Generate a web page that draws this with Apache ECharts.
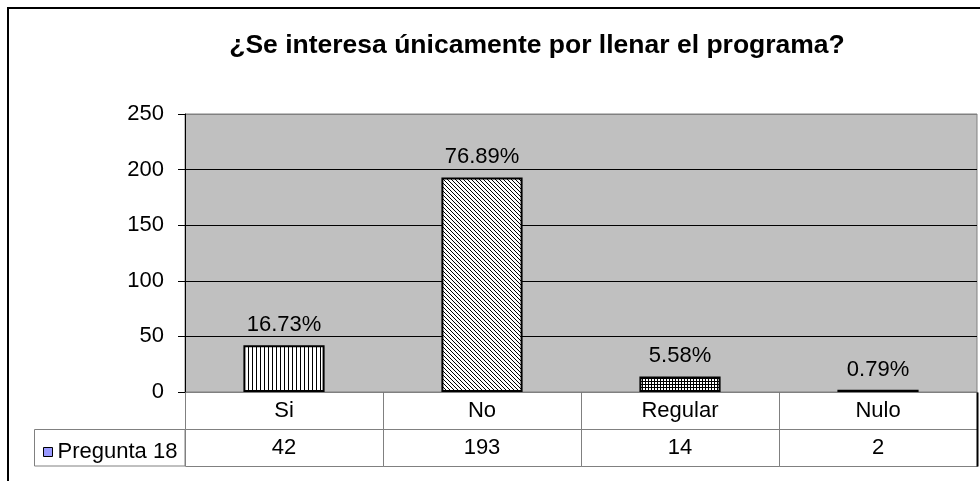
<!DOCTYPE html>
<html>
<head>
<meta charset="utf-8">
<title>Pregunta 18</title>
<script src="https://cdn.jsdelivr.net/npm/echarts@6/dist/echarts.min.js"></script>
<style>
  html, body { margin: 0; padding: 0; background: #fff; }
  #chart { width: 980px; height: 481px; }
</style>
</head>
<body>
<div id="chart"></div>
<script>
// datos de la grafica
var titulo = '¿Se interesa únicamente por llenar el programa?';
var serieNombre = 'Pregunta 18';
var categorias = ['Si', 'No', 'Regular', 'Nulo'];
var valores = [42, 193, 14, 2];
var porcentajes = ['16.73%', '76.89%', '5.58%', '0.79%'];
var ticksY = [0, 50, 100, 150, 200, 250];

var fuente = 'Liberation Sans, Arial, sans-serif';
var tamTexto = 22;

// tramas de relleno tipo excel
function trama(w, h, dibujar) {
  var c = document.createElement('canvas');
  c.width = w;
  c.height = h;
  var ctx = c.getContext('2d');
  ctx.fillStyle = '#fff';
  ctx.fillRect(0, 0, w, h);
  ctx.fillStyle = '#000';
  dibujar(ctx);
  return { image: c, repeat: 'repeat' };
}
var tramas = [
  // rayas verticales
  trama(4, 4, function (ctx) { ctx.fillRect(0, 0, 1, 4) }),
  // diagonales
  trama(4, 4, function (ctx) { for (var i = 0; i < 4; i++) ctx.fillRect(i, i, 1, 1) }),
  // cuadricula
  trama(3, 3, function (ctx) { ctx.fillRect(0, 0, 3, 1); ctx.fillRect(0, 0, 1, 3) }),
  // negro
  '#000'
];

var chart = echarts.init(document.getElementById('chart'));

var option = {
  backgroundColor: '#fff',
  animation: false,
  title: {
    text: titulo,
    left: 532,
    top: 27,
    textAlign: 'center',
    textStyle: { fontFamily: fuente, fontSize: 26.5, fontWeight: 'bold', color: '#000' }
  },
  legend: {
    left: 38,
    top: 436,
    icon: 'rect',
    itemWidth: 9,
    itemHeight: 9,
    textStyle: { fontFamily: fuente, fontSize: tamTexto, color: '#000' },
    data: [{ name: serieNombre, itemStyle: { color: '#9999FF', borderColor: '#000', borderWidth: 1 } }]
  },
  graphic: [
    // marco del area del grafico
    { type: 'rect', z: -1, shape: { x: 8, y: 8, width: 1000, height: 500 },
      style: { fill: 'none', stroke: '#000', lineWidth: 2 } },
    // celda de la leyenda
    { type: 'rect', shape: { x: 34.5, y: 429.5, width: 150.5, height: 36.5 },
      style: { fill: 'none', stroke: '#808080', lineWidth: 1 } }
  ],
  grid: [
    { left: 185, top: 114, right: 3, bottom: 89, show: true,
      backgroundColor: '#C0C0C0', borderColor: '#808080', borderWidth: 1 },
    // tabla de datos
    { left: 185, top: 392, right: 3, bottom: 15 }
  ],
  xAxis: [
    { type: 'category', gridIndex: 0, data: categorias,
      axisLine: { lineStyle: { color: '#000', width: 1 } },
      axisTick: { show: false }, axisLabel: { show: false } },
    { type: 'category', gridIndex: 1, data: categorias, show: false }
  ],
  yAxis: [
    { type: 'value', gridIndex: 0, min: ticksY[0], max: ticksY[ticksY.length - 1], interval: 50,
      axisLine: { show: true, lineStyle: { color: '#000' } },
      axisTick: { show: true, inside: false, length: 7, lineStyle: { color: '#000' } },
      axisLabel: { margin: 21, fontFamily: fuente, fontSize: tamTexto, color: '#000' },
      splitLine: { show: true, lineStyle: { color: ['#000', '#000', '#000', '#000', '#000', '#808080'], width: 1 } } },
    { type: 'value', gridIndex: 1, min: 0, max: 2, show: false }
  ],
  series: [
    {
      name: serieNombre,
      type: 'bar',
      xAxisIndex: 0,
      yAxisIndex: 0,
      barWidth: '41%',
      data: valores.map(function (v, i) {
        return { value: v, itemStyle: { color: tramas[i] } };
      }),
      itemStyle: { borderColor: '#000', borderWidth: 2 },
      label: {
        show: true,
        position: 'top',
        distance: 9,
        fontFamily: fuente,
        fontSize: tamTexto,
        color: '#000',
        formatter: function (p) { return porcentajes[p.dataIndex] }
      }
    },
    {
      // celdas de la tabla
      name: 'tabla',
      type: 'custom',
      xAxisIndex: 1,
      yAxisIndex: 1,
      silent: true,
      data: valores.map(function (v, i) { return [i, v] }),
      renderItem: function (params, api) {
        var i = api.value(0);
        var ancho = api.size([1, 0])[0];
        var cx = api.coord([i, 0])[0];
        var x0 = Math.round(cx - ancho / 2) + 0.5;
        var yArr = Math.round(api.coord([i, 2])[1]) + 0.5;
        var yMed = Math.round(api.coord([i, 1])[1]) + 0.5;
        var yAba = Math.round(api.coord([i, 0])[1]) + 0.5;
        var ultimo = params.dataIndex === categorias.length - 1;
        var borde = { fill: 'none', stroke: '#808080', lineWidth: 1 };
        var letra = tamTexto + 'px ' + fuente;
        var hijos = [
          { type: 'rect', shape: { x: x0, y: yArr, width: ancho, height: yMed - yArr }, style: borde },
          { type: 'rect', shape: { x: x0, y: yMed, width: ancho, height: yAba - yMed }, style: borde },
          { type: 'text', style: { x: cx, y: (yArr + yMed) / 2, text: categorias[params.dataIndex],
              align: 'center', verticalAlign: 'middle', font: letra, fill: '#000' } },
          { type: 'text', style: { x: cx, y: (yMed + yAba) / 2, text: String(api.value(1)),
              align: 'center', verticalAlign: 'middle', font: letra, fill: '#000' } }
        ];
        if (ultimo) {
          hijos.push({ type: 'line', shape: { x1: x0 + ancho, y1: yArr, x2: x0 + ancho, y2: yAba },
            style: { stroke: '#000', lineWidth: 2 } });
        }
        return { type: 'group', children: hijos };
      }
    }
  ]
};

chart.setOption(option);
</script>
</body>
</html>
